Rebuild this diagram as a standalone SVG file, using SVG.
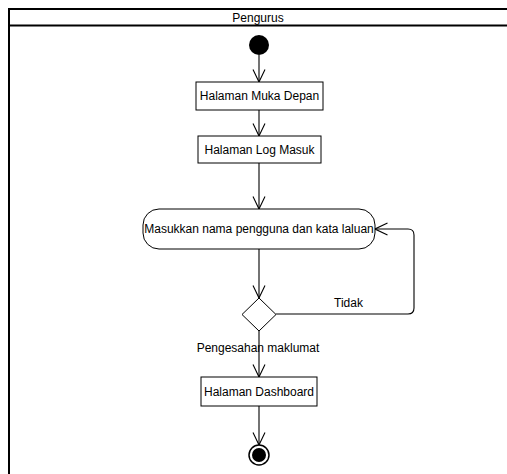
<svg xmlns="http://www.w3.org/2000/svg" width="507" height="474" viewBox="0 0 507 474">
  <style>
    .lbl { font-family: "Liberation Sans", Arial, sans-serif; font-size: 12px; fill: #000; }
    .box { fill: #fff; stroke: #000; stroke-width: 1; }
    .pool { fill: none; stroke: #000; stroke-width: 2; }
    .edge { fill: none; stroke: #000; stroke-width: 1.1; }
  </style>
  <defs>
    <!-- open V arrowhead for control flows -->
    <marker id="open" viewBox="0 0 14 14" refX="13" refY="7" markerWidth="14" markerHeight="14" markerUnits="userSpaceOnUse" orient="auto">
      <path d="M0.5,1 L13,7 L0.5,13" fill="none" stroke="#000" stroke-width="1.1"/>
    </marker>
  </defs>
  <rect width="507" height="474" fill="#fff"/>

  <!-- swimlane -->
  <g id="lane">
    <rect class="pool" x="9" y="9" width="510" height="480"/>
    <line class="pool" x1="9" y1="25.5" x2="507" y2="25.5"/>
    <text class="lbl" x="258" y="21.5" text-anchor="middle">Pengurus</text>
  </g>

  <!-- connectors -->
  <g id="edges">
    <line class="edge" x1="259" y1="55" x2="259" y2="82" marker-end="url(#open)"/>
    <line class="edge" x1="259" y1="110" x2="259" y2="136" marker-end="url(#open)"/>
    <line class="edge" x1="259" y1="163" x2="259" y2="209" marker-end="url(#open)"/>
    <line class="edge" x1="259" y1="249" x2="259" y2="298" marker-end="url(#open)"/>
    <line class="edge" x1="259" y1="331" x2="259" y2="377" marker-end="url(#open)"/>
    <line class="edge" x1="259" y1="406" x2="259" y2="445" marker-end="url(#open)"/>
    <path class="edge" d="M276,314 H408 Q414,314 414,308 V235 Q414,229 408,229 H375" marker-end="url(#open)"/>
    <text class="lbl" x="334" y="307">Tidak</text>
    <text class="lbl" x="258" y="352" text-anchor="middle">Pengesahan maklumat</text>
  </g>

  <g id="start">
    <circle cx="259" cy="45" r="10" fill="#000"/>
  </g>

  <g id="muka-depan">
    <rect class="box" x="196" y="82" width="127" height="28"/>
    <text class="lbl" x="259.5" y="100" text-anchor="middle">Halaman Muka Depan</text>
  </g>

  <g id="log-masuk">
    <rect class="box" x="198" y="136" width="123" height="27"/>
    <text class="lbl" x="259.5" y="154" text-anchor="middle">Halaman Log Masuk</text>
  </g>

  <g id="masukkan">
    <rect class="box" x="143" y="209" width="232" height="40" rx="16" ry="16"/>
    <text class="lbl" x="259" y="233" text-anchor="middle">Masukkan nama pengguna dan kata laluan</text>
  </g>

  <g id="semak">
    <polygon class="box" points="259,298 276,314.5 259,331 242,314.5"/>
  </g>

  <g id="dashboard">
    <rect class="box" x="201" y="377" width="116" height="29"/>
    <text class="lbl" x="259" y="395.5" text-anchor="middle">Halaman Dashboard</text>
  </g>

  <g id="end">
    <circle cx="259" cy="455" r="10" fill="#fff" stroke="#000" stroke-width="1.5"/>
    <circle cx="259" cy="455" r="7" fill="#000"/>
  </g>
</svg>
